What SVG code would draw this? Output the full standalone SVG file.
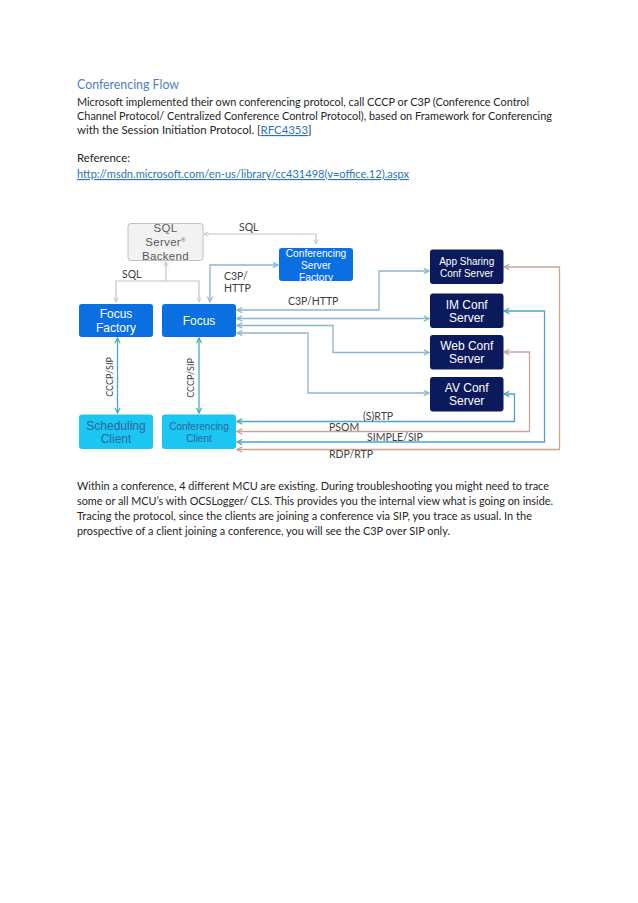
<svg xmlns="http://www.w3.org/2000/svg" width="638" height="903" viewBox="0 0 638 903">
<style>
.body{font-family:Lato,"Liberation Sans",sans-serif;font-size:11.4px;fill:#262626}
.title{font-family:Lato,"Liberation Sans",sans-serif;font-size:13.5px;fill:#4f81bd}
.link{fill:#2e74b5;text-decoration:underline}
.nt{font-family:"Liberation Sans",Arial,sans-serif;text-anchor:middle}
.lbl{font-family:Lato,"Liberation Sans",sans-serif;font-size:10.5px;fill:#404040}
.blue{fill:#0a6fe0}
.navy{fill:#0b1a5c}
.cyan{fill:#1cc6f2}
.w{fill:#ffffff}
.gl{fill:none;stroke:#c4c4c4;stroke-width:1.2}
.sb{fill:none;stroke:#8db5cf;stroke-width:1.3}
.tl{fill:none;stroke:#4ca5c9;stroke-width:1.3}
.tn{fill:none;stroke:#c9a596;stroke-width:1.3}
</style>
<defs>
<marker id="ag" viewBox="0 0 8 8" refX="7" refY="4" markerWidth="6" markerHeight="6" orient="auto-start-reverse" markerUnits="userSpaceOnUse"><polyline points="1,1 7,4 1,7" fill="none" stroke="#c4c4c4" stroke-width="1.2"/></marker>
<marker id="ab" viewBox="0 0 8 8" refX="7" refY="4" markerWidth="7" markerHeight="7" orient="auto-start-reverse" markerUnits="userSpaceOnUse"><polyline points="1,1 7,4 1,7" fill="none" stroke="#8db5cf" stroke-width="1.4"/></marker>
<marker id="at" viewBox="0 0 8 8" refX="7" refY="4" markerWidth="7" markerHeight="7" orient="auto-start-reverse" markerUnits="userSpaceOnUse"><polyline points="1,1 7,4 1,7" fill="none" stroke="#4ca5c9" stroke-width="1.4"/></marker>
<marker id="an" viewBox="0 0 8 8" refX="7" refY="4" markerWidth="7" markerHeight="7" orient="auto-start-reverse" markerUnits="userSpaceOnUse"><polyline points="1,1 7,4 1,7" fill="none" stroke="#c9a596" stroke-width="1.4"/></marker>
</defs>
<rect width="638" height="903" fill="#ffffff"/>

<g id="text-top">
<text class="title" x="77" y="89" textLength="102" lengthAdjust="spacingAndGlyphs">Conferencing Flow</text>
<text class="body" x="77" y="106" textLength="452" lengthAdjust="spacingAndGlyphs">Microsoft implemented their own conferencing protocol, call CCCP or C3P (Conference Control</text>
<text class="body" x="77" y="120" textLength="475" lengthAdjust="spacingAndGlyphs">Channel Protocol/ Centralized Conference Control Protocol), based on Framework for Conferencing</text>
<text class="body" x="77" y="134">with the Session Initiation Protocol. [<tspan class="link">RFC4353</tspan>]</text>
<text class="body" x="77" y="162">Reference:</text>
<text class="body link" x="77" y="178" textLength="332" lengthAdjust="spacingAndGlyphs">http://msdn.microsoft.com/en-us/library/cc431498(v=office.12).aspx</text>
</g>

<g id="connectors">
<polyline class="gl" points="316,244 316,234 204,234" marker-start="url(#ag)" marker-end="url(#ag)"/>
<polyline class="gl" points="166,281 166,262" marker-end="url(#ag)"/>
<polyline class="gl" points="116,302 116,281 199,281 199,302" marker-start="url(#ag)" marker-end="url(#ag)"/>
<polyline class="sb" points="210,302 210,265 278,265" marker-start="url(#ab)" marker-end="url(#ab)"/>
<polyline class="sb" points="237,310 379,310 379,271 429,271" marker-start="url(#ab)" marker-end="url(#ab)"/>
<polyline class="sb" points="237,318.5 429,318.5" marker-start="url(#ab)" marker-end="url(#ab)"/>
<polyline class="sb" points="237,325.5 333,325.5 333,352.5 429,352.5" marker-start="url(#ab)" marker-end="url(#ab)"/>
<polyline class="sb" points="237,333 308,333 308,393 429,393" marker-start="url(#ab)" marker-end="url(#ab)"/>
<polyline class="tl" points="117.5,338 117.5,413" marker-start="url(#at)" marker-end="url(#at)"/>
<polyline class="tl" points="199,338 199,413" marker-start="url(#at)" marker-end="url(#at)"/>
<polyline class="tl" points="237,421.5 514.5,421.5 514.5,394 504,394" marker-start="url(#at)" marker-end="url(#at)"/>
<polyline class="tn" points="237,431.5 529.5,431.5 529.5,352 504,352" marker-start="url(#an)" marker-end="url(#an)"/>
<polyline class="tl" points="237,442 544.5,442 544.5,311 504,311" marker-start="url(#at)" marker-end="url(#at)"/>
<polyline class="tn" points="237,449.5 559.5,449.5 559.5,267 504,267" marker-start="url(#an)" marker-end="url(#an)"/>
</g>

<g id="labels">
<text class="lbl" x="239" y="231">SQL</text>
<text class="lbl" x="122" y="278">SQL</text>
<text class="lbl" x="224" y="279.5">C3P/</text>
<text class="lbl" x="224" y="292">HTTP</text>
<text class="lbl" x="288" y="305">C3P/HTTP</text>
<text class="lbl" transform="translate(112.5,377) rotate(-90)" text-anchor="middle" style="font-size:9px">CCCP/SIP</text>
<text class="lbl" transform="translate(194,378) rotate(-90)" text-anchor="middle" style="font-size:9px">CCCP/SIP</text>
<text class="lbl" x="363" y="419.5">(S)RTP</text>
<text class="lbl" x="329" y="430.5">PSOM</text>
<text class="lbl" x="367" y="441">SIMPLE/SIP</text>
<text class="lbl" x="329" y="458">RDP/RTP</text>
</g>

<g id="sql-server">
<rect x="128" y="223.5" width="75" height="37" rx="3" fill="#f2f2f2" stroke="#c0c0c0" stroke-width="1"/>
<text class="nt" x="165.5" y="232" style="font-size:11.5px;fill:#595959;letter-spacing:0.3px">SQL</text>
<text class="nt" x="165.5" y="246" style="font-size:11.5px;fill:#595959;letter-spacing:0.3px">Server<tspan style="font-size:6px" dy="-4">®</tspan></text>
<text class="nt" x="165.5" y="260" style="font-size:11.5px;fill:#595959;letter-spacing:0.3px">Backend</text>
</g>

<g id="conf-server-factory">
<rect class="blue" x="279" y="248" width="74" height="33" rx="3"/>
<text class="nt w" x="316" y="256.5" style="font-size:10.2px">Conferencing</text>
<text class="nt w" x="316" y="268.5" style="font-size:10.2px">Server</text>
<text class="nt w" x="316" y="280.5" style="font-size:10.2px">Factory</text>
</g>

<g id="focus-factory">
<rect class="blue" x="79" y="304" width="74" height="33" rx="3"/>
<text class="nt w" x="116" y="318" style="font-size:12px">Focus</text>
<text class="nt w" x="116" y="332" style="font-size:12px">Factory</text>
</g>

<g id="focus">
<rect class="blue" x="162" y="304" width="74" height="33" rx="3"/>
<text class="nt w" x="199" y="325" style="font-size:12px">Focus</text>
</g>

<g id="app-sharing">
<rect class="navy" x="430" y="249.5" width="73.5" height="34.5" rx="3"/>
<text class="nt w" x="466.7" y="265" style="font-size:10px">App Sharing</text>
<text class="nt w" x="466.7" y="276.5" style="font-size:10px">Conf Server</text>
</g>

<g id="im-conf">
<rect class="navy" x="430" y="293.5" width="73.5" height="34.5" rx="3"/>
<text class="nt w" x="466.7" y="308.5" style="font-size:12px">IM Conf</text>
<text class="nt w" x="466.7" y="322" style="font-size:12px">Server</text>
</g>

<g id="web-conf">
<rect class="navy" x="430" y="335" width="73.5" height="34.5" rx="3"/>
<text class="nt w" x="466.7" y="349.5" style="font-size:12px">Web Conf</text>
<text class="nt w" x="466.7" y="363" style="font-size:12px">Server</text>
</g>

<g id="av-conf">
<rect class="navy" x="430" y="377" width="73.5" height="34.5" rx="3"/>
<text class="nt w" x="466.7" y="391.5" style="font-size:12px">AV Conf</text>
<text class="nt w" x="466.7" y="405" style="font-size:12px">Server</text>
</g>

<g id="scheduling-client">
<rect class="cyan" x="79" y="414.5" width="74" height="34.5" rx="3"/>
<text class="nt" x="116" y="430" style="font-size:12px;fill:#2a6896">Scheduling</text>
<text class="nt" x="116" y="443" style="font-size:12px;fill:#2a6896">Client</text>
</g>

<g id="conferencing-client">
<rect class="cyan" x="162" y="414.5" width="74" height="34.5" rx="3"/>
<text class="nt" x="199" y="430" style="font-size:10px;fill:#2a6896">Conferencing</text>
<text class="nt" x="199" y="441.5" style="font-size:10px;fill:#2a6896">Client</text>
</g>

<g id="text-bottom">
<text class="body" x="77" y="490" textLength="472" lengthAdjust="spacingAndGlyphs">Within a conference, 4 different MCU are existing. During troubleshooting you might need to trace</text>
<text class="body" x="77" y="505" textLength="476" lengthAdjust="spacingAndGlyphs">some or all MCU’s with OCSLogger/ CLS. This provides you the internal view what is going on inside.</text>
<text class="body" x="77" y="520" textLength="455" lengthAdjust="spacingAndGlyphs">Tracing the protocol, since the clients are joining a conference via SIP, you trace as usual. In the</text>
<text class="body" x="77" y="535" textLength="373" lengthAdjust="spacingAndGlyphs">prospective of a client joining a conference, you will see the C3P over SIP only.</text>
</g>
</svg>
